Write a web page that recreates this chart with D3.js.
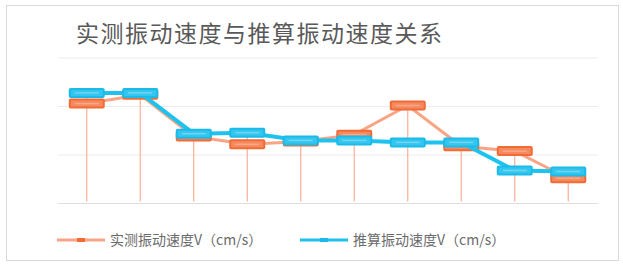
<!DOCTYPE html>
<html>
<head>
<meta charset="utf-8">
<script src="https://cdn.jsdelivr.net/npm/d3@7"></script>
<style>
  body { margin: 0; background: #fff; }
  text { font-family: "Noto Sans CJK SC", "Noto Sans", sans-serif; }
</style>
</head>
<body>
<div class="canvas"></div>
<script>
const title = "实测振动速度与推算振动速度关系"
const categories = [1, 2, 3, 4, 5, 6, 7, 8, 9, 10]
const measured = [1.03, 1.12, 0.69, 0.61, 0.64, 0.71, 1.01, 0.59, 0.54, 0.26]
const estimated = [1.14, 1.14, 0.72, 0.73, 0.65, 0.65, 0.63, 0.63, 0.34, 0.33]
const yTicks = [0, 0.5, 1, 1.5]
const seriesNames = ["实测振动速度V（cm/s）", "推算振动速度V（cm/s）"]

const width = 623, height = 264
const svg = d3.select(".canvas")
    .append("svg")
    .attr("width", width)
    .attr("height", height)

// chart frame
svg.append("rect")
    .attr("x", 6.5).attr("y", 5.5)
    .attr("width", 612).attr("height", 255)
    .attr("fill", "#fff")
    .attr("stroke", "#d9d9d9")

svg.append("text")
    .attr("x", 76).attr("y", 42)
    .attr("font-size", 23)
    .attr("fill", "#595959")
    .attr("letter-spacing", 1.5)
    .text(title)

const scaleX = d3.scaleBand()
    .domain(categories)
    .range([60, 595])

const scaleY = d3.scaleLinear()
    .domain([0, 1.5])
    .range([203.5, 58])

const cx = d => scaleX(d) + scaleX.bandwidth() / 2

// gridlines
svg.append("g").selectAll("line")
    .data(yTicks)
    .enter().append("line")
    .attr("x1", 58).attr("x2", 598)
    .attr("y1", d => scaleY(d)).attr("y2", d => scaleY(d))
    .attr("stroke", d => d == 0 ? "#dedede" : "#ececec")
    .attr("stroke-width", 1)

// drop lines
svg.append("g").selectAll("line")
    .data(categories)
    .enter().append("line")
    .attr("x1", d => cx(d)).attr("x2", d => cx(d))
    .attr("y1", (d, i) => scaleY(Math.max(measured[i], estimated[i])))
    .attr("y2", scaleY(0) - 2)
    .attr("stroke", "#f8b096")
    .attr("stroke-width", 1.2)

const line = d3.line()
    .x((d, i) => cx(categories[i]))
    .y(d => scaleY(d))

function drawSeries(values, lineColor, lineWidth, fill, stroke, inner) {
    svg.append("path")
        .datum(values)
        .attr("d", line)
        .attr("fill", "none")
        .attr("stroke", lineColor)
        .attr("stroke-width", lineWidth)

    const g = svg.append("g").selectAll("g")
        .data(values)
        .enter().append("g")
        .attr("transform", (d, i) => `translate(${cx(categories[i])}, ${scaleY(d)})`)
    g.append("rect")
        .attr("x", -17).attr("y", -4)
        .attr("width", 34).attr("height", 8)
        .attr("rx", 1)
        .attr("fill", fill)
        .attr("stroke", stroke)
        .attr("stroke-width", 2)
    g.append("line")
        .attr("x1", -12).attr("x2", 12)
        .attr("stroke", inner)
        .attr("stroke-width", 1.5)
        .attr("opacity", 0.7)
}

drawSeries(measured, "#f9a585", 3, "#f68a5f", "#f26b36", "#fbb79c")
drawSeries(estimated, "#1ec2ee", 4, "#34c6ef", "#1bbbe9", "#8fdcf4")

// legend
const legend = [
    { name: seriesNames[0], x: 57, line: "#f9a585", mark: "#f26b36", w: 3 },
    { name: seriesNames[1], x: 300, line: "#1ec2ee", mark: "#1bbbe9", w: 3 }
]
const lg = svg.append("g").selectAll("g")
    .data(legend)
    .enter().append("g")
    .attr("transform", d => `translate(${d.x}, 240)`)
lg.append("line")
    .attr("x1", 0).attr("x2", 48)
    .attr("stroke", d => d.line)
    .attr("stroke-width", d => d.w)
lg.append("rect")
    .attr("x", 20).attr("y", -2)
    .attr("width", 8).attr("height", 4)
    .attr("fill", d => d.mark)
lg.append("text")
    .attr("x", 53).attr("y", 5)
    .attr("font-size", 14)
    .attr("fill", "#6b6b6b")
    .text(d => d.name)
</script>
</body>
</html>
